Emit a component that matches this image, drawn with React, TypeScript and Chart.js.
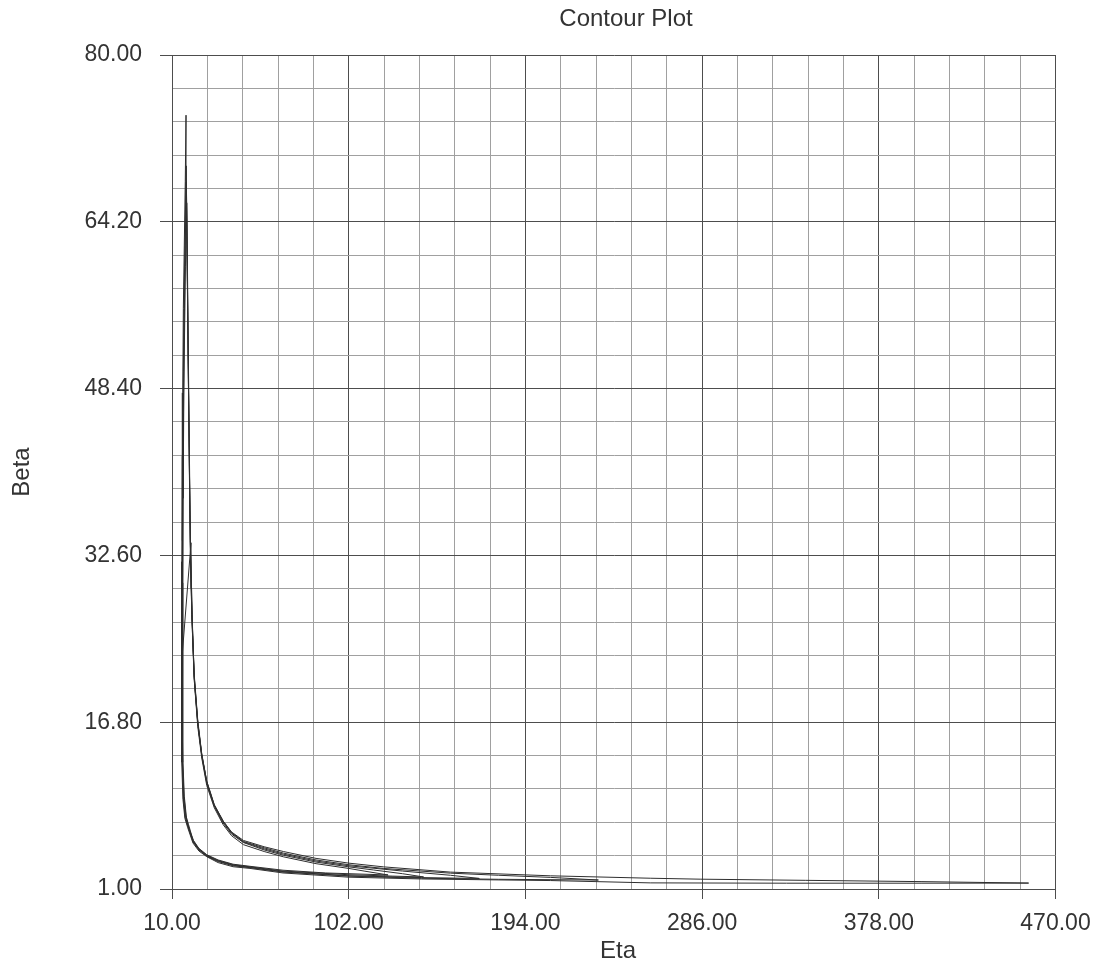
import React, { useEffect, useRef } from 'react';
import { Chart, registerables } from 'chart.js';

Chart.register(...registerables);

const titleText = 'Contour Plot';
const xTitle = 'Eta';
const yTitle = 'Beta';

const xMin = 10;
const xMax = 470;
const xMajorStep = 92;
const xMinorStep = 18.4;
const yMin = 1;
const yMax = 80;
const yMajorStep = 15.8;
const yMinorStep = 3.16;

// Contour 1 (smallest)
const c1Eta = [122.5, 110, 102, 85, 68, 58, 47.2, 41, 36.6, 32, 28.1, 25.5, 23.4, 21.7, 20.8, 20.2, 19.9,
  15.0, 15.2, 15.6, 16.4, 17.6, 19.0, 21.2, 24, 28.1, 34, 41.8, 50.6, 67.8, 90, 102, 122.5];
const c1Beta = [2.33, 2.7, 2.95, 3.4, 4.05, 4.55, 5.2, 6.05, 7.1, 8.7, 10.8, 13.4, 16.4, 20.5, 25, 29.5, 33.8,
  22.4, 18, 13.5, 9.8, 7.6, 6.6, 5.6, 4.85, 4.25, 3.75, 3.35, 3.15, 2.78, 2.52, 2.45, 2.33];

// Contour 2
const c2Eta = [141, 130, 115, 102, 85, 68, 58, 47.2, 41, 36.6, 32, 28.1, 25.5, 23.4, 21.5, 20.3, 19.6, 19.0, 18.5, 18, 17.6,
  17.0, 16.5, 16.1, 15.8, 15.6, 15.5, 15.5, 15.7, 16.2, 17.2, 18.6, 21.1, 24, 28.1, 34, 41.8, 50.6, 67.8, 102, 125, 141];
const c2Beta = [2.14, 2.45, 2.8, 3.1, 3.55, 4.2, 4.7, 5.4, 6.2, 7.25, 8.85, 11, 13.6, 16.7, 21, 27, 33, 41, 50, 59, 66,
  60, 53, 46, 38, 30, 24, 18.5, 13, 9.8, 8.0, 7.1, 5.55, 4.8, 4.2, 3.7, 3.3, 3.1, 2.7, 2.35, 2.22, 2.14];

// Contour 3
const c3Eta = [170, 155, 130, 102, 85, 68, 58, 47.2, 41, 36.6, 32, 28.1, 25.5, 23.4, 21.5, 20.3, 19.5, 19.0, 18.4, 17.9, 17.5,
  16.9, 16.4, 16.0, 15.7, 15.5, 15.3, 15.3, 15.5, 16.0, 17.0, 18.4, 21, 24, 28.1, 34, 41.8, 50.6, 67.8, 102, 140, 170];
const c3Beta = [2.0, 2.3, 2.7, 3.2, 3.65, 4.3, 4.8, 5.45, 6.3, 7.35, 8.9, 11.1, 13.7, 16.8, 21.3, 27, 34, 42, 51, 60, 68,
  62, 55, 48, 40, 32, 25, 19, 13, 9.7, 7.9, 7.0, 5.5, 4.75, 4.15, 3.65, 3.25, 3.05, 2.65, 2.25, 2.08, 2.0];

// Contour 4
const c4Eta = [232, 207, 180, 155, 120, 102, 85, 68, 58, 47.2, 41, 36.6, 32, 28.1, 25.5, 23.4, 21.5, 20.3, 19.5, 19.0, 18.4, 17.9, 17.4,
  16.9, 16.3, 15.9, 15.6, 15.4, 15.2, 15.2, 15.4, 15.9, 16.9, 18.3, 21, 24, 28.1, 34, 41.8, 50.6, 67.8, 102, 140, 180, 232];
const c4Beta = [1.85, 2.1, 2.3, 2.5, 2.95, 3.3, 3.75, 4.4, 4.9, 5.5, 6.35, 7.45, 9, 11.2, 13.8, 17, 21.5, 27.5, 34, 42, 52, 61, 69.5,
  64, 57, 50, 42, 34, 26, 19, 13, 9.6, 7.8, 6.9, 5.45, 4.7, 4.1, 3.6, 3.2, 3.02, 2.6, 2.22, 2.02, 1.92, 1.85];

// Contour 5 (largest)
const c5Eta = [456, 400, 340, 285, 259, 207, 155, 120, 102, 85, 68, 58, 47.2, 41, 36.6, 32, 28.1, 25.5, 23.5, 21.6, 20.4, 19.6, 19.2, 18.6, 18.1, 17.7, 17.3,
  16.9, 16.4, 15.9, 15.6, 15.4, 15.2, 15.0, 15.0, 15.2, 15.7, 16.7, 18.2, 20.9, 24, 28.1, 34, 41.8, 50.6, 67.8, 102, 140, 207, 259, 330, 400, 456];
const c5Beta = [1.56, 1.7, 1.82, 1.93, 2.02, 2.25, 2.6, 3.1, 3.45, 3.9, 4.55, 5.0, 5.6, 6.4, 7.45, 8.95, 11.2, 13.7, 16.6, 21, 27, 34, 40, 50, 59, 66, 74.3,
  68, 62, 56, 48, 40, 32, 24, 18, 13, 9.5, 7.7, 6.8, 5.36, 4.6, 4.06, 3.5, 3.11, 2.95, 2.52, 2.12, 1.95, 1.8, 1.58, 1.55, 1.55, 1.56];

const contourEtas = [c1Eta, c2Eta, c3Eta, c4Eta, c5Eta];
const contourBetas = [c1Beta, c2Beta, c3Beta, c4Beta, c5Beta];

const FONT = '"Liberation Sans", Arial, Helvetica, sans-serif';
const TEXT_COLOR = '#333333';
const MAJOR_COLOR = '#4d4d4d';
const MINOR_COLOR = '#a0a0a0';

const isMajor = (v: number, base: number, step: number) => {
  const r = (v - base) / step;
  return Math.abs(r - Math.round(r)) < 1e-6;
};

const textPlugin = {
  id: 'contourTexts',
  afterDraw(chart: any) {
    const ctx = chart.ctx as CanvasRenderingContext2D;
    ctx.save();
    ctx.fillStyle = TEXT_COLOR;
    ctx.font = `24px ${FONT}`;
    ctx.textAlign = 'center';
    ctx.textBaseline = 'alphabetic';
    ctx.fillText(titleText, 626, 26);
    ctx.fillText(xTitle, 618, 958);
    ctx.translate(29, 472);
    ctx.rotate(-Math.PI / 2);
    ctx.fillText(yTitle, 0, 0);
    ctx.restore();
  },
};

export default function App() {
  const canvasRef = useRef<HTMLCanvasElement | null>(null);

  useEffect(() => {
    if (!canvasRef.current) return;
    const datasets = contourEtas.map((etas, i) => ({
      label: `Contour ${i + 1}`,
      data: etas.map((e, j) => ({ x: e, y: contourBetas[i][j] })),
      showLine: true,
      borderColor: '#2e2e2e',
      borderWidth: 1,
      pointRadius: 0,
      pointHoverRadius: 0,
      fill: false,
      tension: 0,
    }));

    const chart = new Chart(canvasRef.current, {
      type: 'scatter',
      data: { datasets },
      plugins: [textPlugin],
      options: {
        animation: false,
        responsive: false,
        devicePixelRatio: 1,
        events: [],
        layout: { padding: { left: 0, right: 47.5, top: 55, bottom: 0 } },
        plugins: {
          legend: { display: false },
          title: { display: false },
          tooltip: { enabled: false },
        },
        scales: {
          x: {
            type: 'linear',
            min: xMin,
            max: xMax,
            afterFit: (s: any) => { s.height = 963 - 889; },
            ticks: {
              stepSize: xMinorStep,
              autoSkip: false,
              maxRotation: 0,
              minRotation: 0,
              padding: 11,
              color: TEXT_COLOR,
              font: { family: FONT, size: 23 },
              callback: (v: any) => (isMajor(Number(v), xMin, xMajorStep) ? Number(v).toFixed(2) : ''),
            },
            grid: {
              color: (c: any) => (c.tick && isMajor(c.tick.value, xMin, xMajorStep) ? MAJOR_COLOR : MINOR_COLOR),
              tickColor: (c: any) => (c.tick && isMajor(c.tick.value, xMin, xMajorStep) ? MAJOR_COLOR : 'rgba(0,0,0,0)'),
              tickLength: 10,
              lineWidth: 1,
            },
            border: { display: true, color: MAJOR_COLOR, width: 1 },
          },
          y: {
            type: 'linear',
            min: yMin,
            max: yMax,
            afterFit: (s: any) => { s.width = 172; },
            ticks: {
              stepSize: yMinorStep,
              autoSkip: false,
              padding: 18,
              color: TEXT_COLOR,
              font: { family: FONT, size: 23 },
              callback: (v: any) => (isMajor(Number(v), yMin, yMajorStep) ? Number(v).toFixed(2) : ''),
            },
            grid: {
              color: (c: any) => (c.tick && isMajor(c.tick.value, yMin, yMajorStep) ? MAJOR_COLOR : MINOR_COLOR),
              tickColor: (c: any) => (c.tick && isMajor(c.tick.value, yMin, yMajorStep) ? MAJOR_COLOR : 'rgba(0,0,0,0)'),
              tickLength: 12,
              lineWidth: 1,
            },
            border: { display: true, color: MAJOR_COLOR, width: 1 },
          },
        },
      },
    });
    return () => chart.destroy();
  }, []);

  return (
    <div style={{ position: 'fixed', left: 0, top: 0, width: 1103, height: 963, background: '#fff' }}>
      <canvas ref={canvasRef} width={1103} height={963} style={{ display: 'block' }} />
    </div>
  );
}
